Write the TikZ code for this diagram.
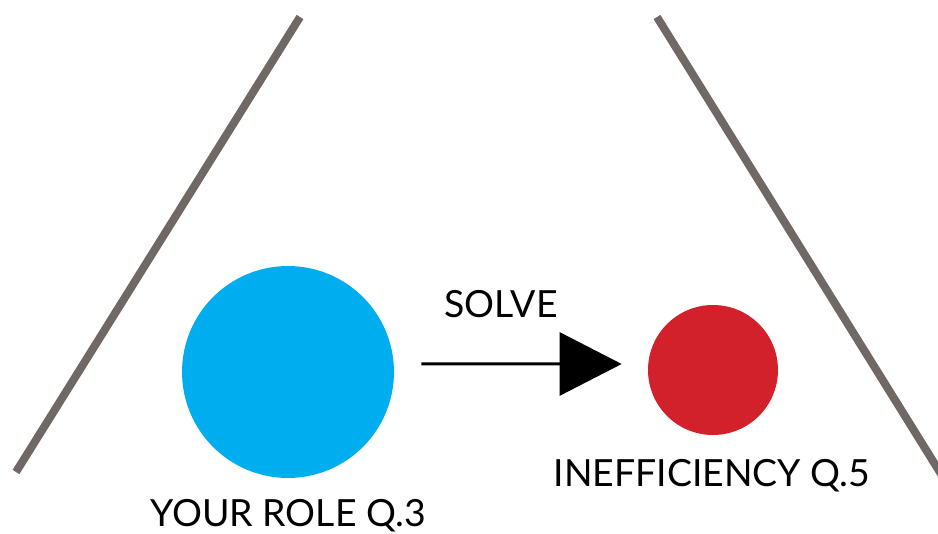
\documentclass[tikz,border=0pt]{standalone}
\usepackage{fontspec}
\setmainfont{Lato}
\usetikzlibrary{arrows.meta,positioning}
\definecolor{RoleBlue}{RGB}{0,174,239}
\definecolor{IssueRed}{RGB}{210,33,42}
\definecolor{Wall}{RGB}{112,104,100}
\tikzset{
  wall/.style={draw=Wall,line width=.16cm},
  role/.style={circle,fill=RoleBlue,minimum size=4.24cm,inner sep=0pt},
  issue/.style={circle,fill=IssueRed,minimum size=2.6cm,inner sep=0pt},
  tag/.style={font=\fontsize{21.3}{24}\selectfont,text=black,inner sep=0pt,anchor=base},
  solve/.style={-{Triangle[length=1.24cm,width=1.26cm]},line width=.06cm,draw=black}
}
\begin{document}
\begin{tikzpicture}[x=.02cm,y=.02cm]
  \useasboundingbox (0,0) rectangle (938,534);
  \clip (0,0) rectangle (938,534);
  % side walls
  \draw[wall] (16,62)--(300,517);
  \draw[wall] (657,517)--(946,52);
  % circles and labels
  \node[role] (you) at (288,162) {};
  \node[issue] (ineff) at (713,164) {};
  \node[tag] (youlbl) at (288,7) {YOUR ROLE Q.3};
  \node[tag] (inefflbl) at (712,47) {INEFFICIENCY Q.5};
  \node[tag] (solvelbl) at (501,216) {SOLVE};
  \draw[solve,shorten <=.54cm,shorten >=.52cm] ([yshift=.16cm]you.east)--([yshift=.12cm]ineff.west);
\end{tikzpicture}
\end{document}
